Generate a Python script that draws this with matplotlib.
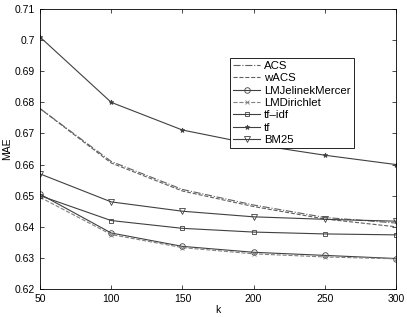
import matplotlib
matplotlib.use("Agg")
import matplotlib.pyplot as plt

k = [50, 100, 150, 200, 250, 300]
acs = [0.678, 0.661, 0.652, 0.647, 0.643, 0.6412]
wacs = [0.678, 0.6605, 0.6515, 0.6465, 0.6425, 0.6400]
lmjm = [0.6505, 0.638, 0.6337, 0.6318, 0.6308, 0.6298]
lmdir = [0.6495, 0.6375, 0.6333, 0.6313, 0.6303, 0.6297]
tfidf = [0.650, 0.642, 0.6395, 0.6383, 0.6377, 0.6374]
tf = [0.701, 0.680, 0.6711, 0.6665, 0.663, 0.660]
bm25 = [0.657, 0.648, 0.645, 0.6432, 0.6424, 0.6418]

plt.rcParams["font.family"] = ["Liberation Sans", "DejaVu Sans"]
plt.rcParams["font.size"] = 7.5

fig = plt.figure(figsize=(4.07, 3.17), dpi=100)
ax = fig.add_axes([40 / 407, 28 / 317, 356 / 407, 280 / 317])

dark = "#404040"
ax.plot(k, acs, color="#606060", ls="-.", lw=0.8, label="ACS")
ax.plot(k, wacs, color="#606060", ls="--", lw=0.8, label="wACS")
ax.plot(k, lmjm, color=dark, ls="-", lw=0.8, marker="o", ms=4, mfc="none", mew=0.6, label="LMJelinekMercer")
ax.plot(k, lmdir, color="#808080", ls="--", lw=0.8, marker="x", ms=3, mew=0.6, label="LMDirichlet")
ax.plot(k, tfidf, color=dark, ls="-", lw=0.8, marker="s", ms=3.5, mfc="none", mew=0.6, label="tf\u2013idf")
ax.plot(k, tf, color=dark, ls="-", lw=0.8, marker="*", ms=3.5, mew=0.6, label="tf")
ax.plot(k, bm25, color=dark, ls="-", lw=0.8, marker="v", ms=4, mfc="none", mew=0.6, label="BM25")

ax.set_xlim(50, 300)
ax.set_ylim(0.62, 0.71)
ax.set_xticks(k)
ax.set_yticks([0.62, 0.63, 0.64, 0.65, 0.66, 0.67, 0.68, 0.69, 0.70, 0.71])
ax.set_yticklabels(["0.62", "0.63", "0.64", "0.65", "0.66", "0.67", "0.68", "0.69", "0.7", "0.71"])
ax.tick_params(direction="in", length=3, width=0.5, top=True, right=True)
for s in ax.spines.values():
    s.set_linewidth(0.6)
ax.set_xlabel("k", labelpad=1)
ax.set_ylabel("MAE", labelpad=2)

leg = ax.legend(loc="upper left", bbox_to_anchor=(184 / 356, 1 - 43 / 280), fancybox=False,
                edgecolor="black", framealpha=1, handlelength=2.4, handletextpad=0.3,
                labelspacing=0.2, borderpad=0.3, fontsize=8.2)
leg.get_frame().set_linewidth(0.6)

fig.savefig("out.png", dpi=100)
